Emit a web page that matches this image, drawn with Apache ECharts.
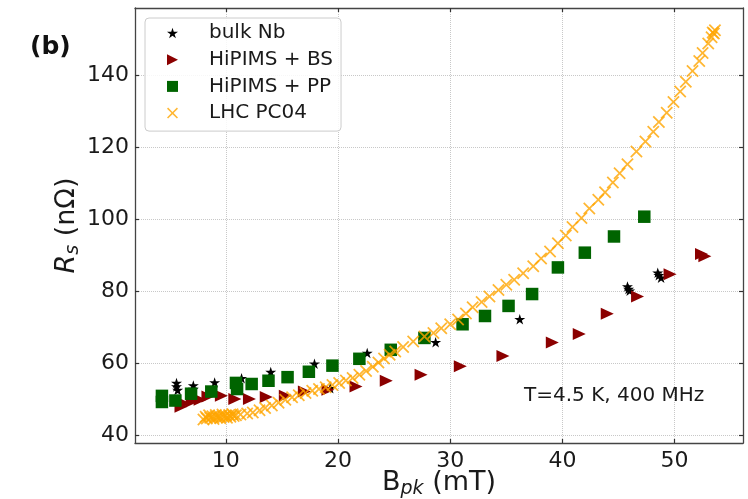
<!DOCTYPE html>
<html><head><meta charset="utf-8">
<script src="https://cdn.jsdelivr.net/npm/echarts@6/dist/echarts.min.js"></script>
<style>html,body{margin:0;padding:0;background:#fff}#c{width:748px;height:499px}</style>
</head><body><div id="c"></div>
<script>
// ---- data ----
const seriesNames = ['bulk Nb', 'HiPIMS + BS', 'HiPIMS + PP', 'LHC PC04'];

const bulkNbB  = [5.6, 5.6, 5.7, 7.1, 7.1, 9.0, 11.4, 14.0, 17.9, 19.3, 22.6, 28.7, 36.2, 45.8, 45.9, 46.0, 48.5, 48.6, 48.8];
const bulkNbRs = [54.6, 53.6, 52.6, 53.9, 52.9, 54.7, 55.9, 57.6, 59.9, 53.1, 62.9, 65.9, 72.3, 81.4, 80.7, 80.2, 85.2, 84.5, 83.8];

const bsB  = [6.0, 6.3, 7.0, 7.7, 8.4, 9.6, 10.8, 12.1, 13.6, 15.3, 17.0, 19.1, 21.6, 24.3, 27.4, 30.9, 34.7, 39.1, 41.5, 44.0, 46.7, 49.6, 52.4, 52.7];
const bsRs = [48.0, 48.9, 49.4, 49.9, 50.8, 51.0, 50.1, 50.1, 50.7, 51.0, 52.2, 52.7, 53.6, 55.2, 56.9, 59.2, 62.1, 65.8, 68.2, 73.8, 78.6, 84.8, 90.4, 89.8];

const ppB  = [4.3, 4.3, 5.5, 6.9, 8.7, 10.9, 11.0, 12.3, 13.8, 15.5, 17.4, 19.5, 21.9, 24.7, 27.7, 31.1, 33.1, 35.2, 37.3, 39.6, 42.0, 44.6, 47.3];
const ppRs = [51.0, 49.3, 49.7, 51.6, 52.2, 54.6, 52.9, 54.3, 55.2, 56.2, 57.7, 59.4, 61.3, 63.8, 67.1, 70.9, 73.2, 76.0, 79.3, 86.7, 90.8, 95.3, 100.8];

const lhcB  = [8.0, 8.2, 8.3, 8.5, 8.6, 8.8, 8.9, 9.1, 9.2, 9.4, 9.5, 9.7, 9.8, 10.0, 10.1, 10.3, 10.4, 10.6, 10.7, 10.9,
  11.3, 11.9, 12.4, 13.0, 13.5, 14.1, 14.7, 15.3, 15.9, 16.5, 17.1, 17.7, 18.3, 18.9, 19.5, 20.1, 20.7, 21.3, 21.9, 22.5,
  23.1, 23.6, 24.1, 24.6, 25.1, 25.8, 26.7, 27.7, 28.5, 29.2, 30.0, 30.7, 31.4, 32.0, 32.8, 33.5, 34.3, 35.0, 35.7, 36.5,
  37.4, 38.1, 38.9, 39.6, 40.3, 40.9, 41.7, 42.4, 43.2, 43.8, 44.5, 45.1, 45.8, 46.6, 47.4, 48.1, 48.6, 49.3, 49.9, 50.5,
  51.0, 51.6, 52.2, 52.5, 53.0, 53.3, 53.5, 53.6, 53.4];
const lhcRs = [44.4, 45.2, 44.7, 45.6, 44.9, 45.3, 44.6, 45.7, 45.0, 45.4, 44.8, 45.8, 45.1, 45.5, 44.9, 45.7, 45.2, 45.9, 45.4, 45.6,
  45.8, 46.1, 46.4, 47.0, 47.6, 48.3, 49.1, 49.9, 50.6, 51.2, 51.8, 52.4, 52.9, 53.4, 54.0, 54.6, 55.3, 56.0, 56.9, 57.9,
  59.1, 60.3, 61.4, 62.4, 63.3, 64.6, 66.1, 67.5, 68.5, 69.8, 70.9, 72.2, 73.9, 75.6, 77.1, 78.6, 80.4, 81.9, 83.3, 85.1,
  87.0, 89.2, 91.1, 93.4, 95.6, 97.9, 100.4, 103.1, 105.5, 107.6, 110.3, 112.9, 115.4, 118.9, 121.7, 124.4, 127.1, 129.7, 132.7, 135.6,
  138.3, 141.3, 144.1, 146.3, 148.9, 150.7, 151.7, 152.6, 152.0];

const xTicks = [10, 20, 30, 40, 50];
const yTicks = [40, 60, 80, 100, 120, 140];
const xRange = [1.9, 56.1];
const yRange = [37.9, 158.8];

// ---- presentation ----
const FONT = 'DejaVu Sans';
const starPath = 'path://M50,0L61.2,34.5L97.6,34.5L68.2,55.9L79.4,90.5L50,69.1L20.6,90.5L31.8,55.9L2.4,34.5L38.8,34.5Z';
const triPath = 'path://M0,0L100,50L0,100Z';
const sqPath = 'path://M0,0L100,0L100,100L0,100Z';
const xPath = 'path://M0,10L10,0L50,40L90,0L100,10L60,50L100,90L90,100L50,60L10,100L0,90L40,50Z';

const pairs = (a, b) => a.map((v, i) => [v, b[i]]);

function axisCommon(range, ticks, pos, showLabels, showSplit) {
  return {
    type: 'value', min: range[0], max: range[1], position: pos,
    axisLine: { show: true, onZero: false, lineStyle: { color: '#444', width: 1.3 } },
    axisTick: { show: true, inside: true, length: 4, customValues: ticks, lineStyle: { color: '#333', width: 1.2 } },
    axisLabel: { show: showLabels, customValues: ticks, fontFamily: FONT, fontSize: 22, color: '#1a1a1a', margin: pos === 'left' ? 6 : 7 },
    splitLine: { show: showSplit, lineStyle: { color: '#c8c8c8', type: 'dotted', width: 1 } },
    minorTick: { show: false }, minorSplitLine: { show: false }
  };
}

const xMain = Object.assign(axisCommon(xRange, xTicks, 'bottom', true, true), {
  name: '{m|B}{sub|pk}{m| (mT)}', nameLocation: 'middle', nameGap: 26, nameMoveOverlap: false,
  nameTextStyle: { fontFamily: FONT, fontSize: 27, color: '#1a1a1a',
    rich: { m: { fontFamily: FONT, fontSize: 27, color: '#1a1a1a', padding: [0, 0, 3, 0], verticalAlign: 'bottom' },
            sub: { fontFamily: FONT, fontSize: 19, fontStyle: 'italic', color: '#1a1a1a', verticalAlign: 'bottom' } } }
});
const xTop = axisCommon(xRange, xTicks, 'top', false, false);
const yMain = Object.assign(axisCommon(yRange, yTicks, 'left', true, true), {
  name: '{i|R}{sub|s}{m| (nΩ)}', nameLocation: 'middle', nameGap: 52, nameMoveOverlap: false,
  nameTextStyle: { fontFamily: FONT, fontSize: 27, color: '#1a1a1a',
    rich: { i: { fontFamily: FONT, fontSize: 27, fontStyle: 'italic', color: '#1a1a1a', padding: [0, 0, 3, 0], verticalAlign: 'bottom' },
            m: { fontFamily: FONT, fontSize: 27, color: '#1a1a1a', padding: [0, 0, 3, 0], verticalAlign: 'bottom' },
            sub: { fontFamily: FONT, fontSize: 19, fontStyle: 'italic', color: '#1a1a1a', verticalAlign: 'bottom' } } }
});
const yRight = axisCommon(yRange, yTicks, 'right', false, false);

const chart = echarts.init(document.getElementById('c'), null, { renderer: 'canvas' });
chart.setOption({
  animation: false,
  backgroundColor: '#ffffff',
  textStyle: { fontFamily: FONT },
  title: [
    { text: '(b)', left: 30, top: 35, padding: 0, textStyle: { fontFamily: FONT, fontSize: 25, fontWeight: 'bold', color: '#111' } },
    { text: 'T=4.5 K, 400 MHz', left: 524, top: 386, padding: 0, textStyle: { fontFamily: FONT, fontSize: 20, fontWeight: 'normal', color: '#1a1a1a' } }
  ],
  grid: { left: 135, right: 5, top: 8, bottom: 56, containLabel: false, outerBoundsMode: 'none' },
  legend: {
    orient: 'vertical', left: 145, top: 18,
    padding: [5, 8, 8, 22],
    itemWidth: 11, itemHeight: 11, itemGap: 6.7,
    backgroundColor: 'rgba(255,255,255,0.85)', borderColor: '#cccccc', borderWidth: 1, borderRadius: 4,
    textStyle: { fontFamily: FONT, fontSize: 20, color: '#1a1a1a', lineHeight: 20, padding: [0, 0, 0, 26] },
    data: [
      { name: seriesNames[0], icon: starPath },
      { name: seriesNames[1], icon: triPath },
      { name: seriesNames[2], icon: sqPath },
      { name: seriesNames[3], icon: xPath }
    ]
  },
  xAxis: [xMain, xTop],
  yAxis: [yMain, yRight],
  series: [
    { name: seriesNames[0], type: 'scatter', xAxisIndex: 0, yAxisIndex: 0, symbol: starPath, symbolSize: [11, 10.5],
      itemStyle: { color: '#000000', opacity: 1 }, data: pairs(bulkNbB, bulkNbRs) },
    { name: seriesNames[1], type: 'scatter', xAxisIndex: 0, yAxisIndex: 0, symbol: triPath, symbolSize: [13, 12],
      itemStyle: { color: '#8b0000', opacity: 1 }, data: pairs(bsB, bsRs) },
    { name: seriesNames[2], type: 'scatter', xAxisIndex: 0, yAxisIndex: 0, symbol: sqPath, symbolSize: 12.5,
      itemStyle: { color: '#006400', opacity: 1 }, data: pairs(ppB, ppRs) },
    { name: seriesNames[3], type: 'scatter', xAxisIndex: 0, yAxisIndex: 0, symbol: xPath, symbolSize: 12.5,
      itemStyle: { color: '#ffa500', opacity: 0.8 }, data: pairs(lhcB, lhcRs) }
  ]
});
</script>
</body></html>
